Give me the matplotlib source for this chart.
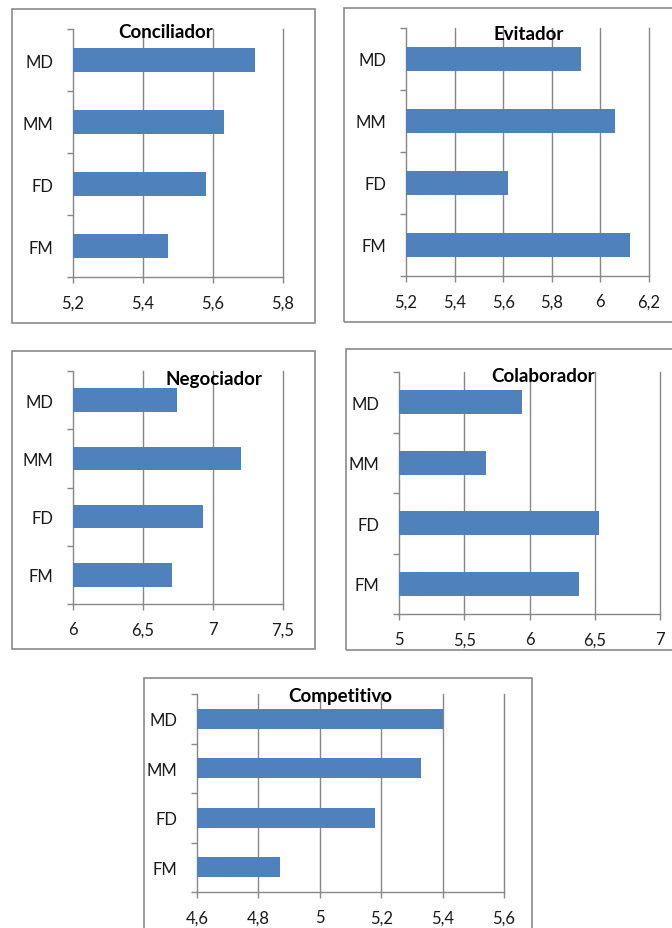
import matplotlib
matplotlib.use("Agg")
import matplotlib.pyplot as plt
from matplotlib.patches import Rectangle
from matplotlib.ticker import FuncFormatter, FixedLocator

plt.rcParams['font.family'] = ['Lato', 'DejaVu Sans']

categories = ["FM", "FD", "MM", "MD"]

conciliador = [5.47, 5.58, 5.63, 5.72]
evitador = [6.12, 5.62, 6.06, 5.92]
negociador = [6.71, 6.93, 7.20, 6.74]
colaborador = [6.38, 6.53, 5.67, 5.94]
competitivo = [4.87, 5.18, 5.33, 5.40]

titles = ["Conciliador", "Evitador", "Negociador", "Colaborador", "Competitivo"]
series = [conciliador, evitador, negociador, colaborador, competitivo]
xticks = [
    [5.2, 5.4, 5.6, 5.8],
    [5.2, 5.4, 5.6, 5.8, 6.0, 6.2],
    [6.0, 6.5, 7.0, 7.5],
    [5.0, 5.5, 6.0, 6.5, 7.0],
    [4.6, 4.8, 5.0, 5.2, 5.4, 5.6],
]

W, H = 672, 929
fig = plt.figure(figsize=(W / 100, H / 100), dpi=100)
fig.patch.set_facecolor("white")

# layout in pixels: box (x0,y0,x1,y1), axes (x0,y0,x1,y1), title center (x,y)
boxes = [(12, 10, 315, 324), (344, 9, 690, 323), (12, 352, 315, 650),
         (346, 350, 690, 651), (144, 679, 532, 950)]
axes_px = [(73, 30, 283, 278), (406, 29, 649, 277), (73, 372, 283, 605),
           (399, 373, 660, 615), (197, 695, 504, 893)]
title_px = [(166, 32), (529, 35), (214, 380), (543, 377), (340, 697)]

grid_col = "#878787"
bar_col = "#4f81bd"


def fmt(v, pos):
    s = ("%.1f" % v)
    if s.endswith(".0"):
        s = s[:-2]
    return s.replace(".", ",")


for i in range(5):
    bx0, by0, bx1, by1 = boxes[i]
    fig.patches.append(Rectangle((bx0 / W, 1 - by1 / H), (bx1 - bx0) / W, (by1 - by0) / H,
                                 transform=fig.transFigure, fill=False,
                                 edgecolor="#8a8a8a", linewidth=1.2, zorder=0))
    ax0, ay0, ax1, ay1 = axes_px[i]
    ax = fig.add_axes([ax0 / W, 1 - ay1 / H, (ax1 - ax0) / W, (ay1 - ay0) / H])
    ax.set_facecolor("none")
    ypos = list(range(len(categories)))
    ax.barh(ypos, series[i], height=0.4, color=bar_col, zorder=3, left=0)
    tk = xticks[i]
    ax.set_xlim(tk[0], tk[-1])
    ax.set_ylim(-0.5, len(categories) - 0.5)
    ax.xaxis.set_major_locator(FixedLocator(tk))
    ax.xaxis.set_major_formatter(FuncFormatter(fmt))
    ax.yaxis.set_major_locator(FixedLocator([-0.5, 0.5, 1.5, 2.5, 3.5]))
    ax.yaxis.set_major_formatter(FuncFormatter(lambda v, p: ""))
    ax.yaxis.set_minor_locator(FixedLocator(ypos))
    ax.set_yticklabels(categories, minor=True)
    ax.tick_params(axis="y", which="minor", length=0, pad=14, labelsize=12, labelcolor="#1a1a1a")
    ax.tick_params(axis="y", which="major", length=4, width=1, color=grid_col, direction="out")
    ax.tick_params(axis="x", length=4, width=1, color=grid_col, direction="out", pad=8.5,
                   labelsize=12, labelcolor="#1a1a1a")
    for t in tk[1:]:
        ax.axvline(t, color=grid_col, linewidth=1, zorder=1, clip_on=False)
    for s in ["top", "right"]:
        ax.spines[s].set_visible(False)
    for s in ["left", "bottom"]:
        ax.spines[s].set_color(grid_col)
        ax.spines[s].set_linewidth(1)
    tx, ty = title_px[i]
    fig.text(tx / W, 1 - ty / H, titles[i], ha="center", va="center",
             fontsize=13.5, fontweight="bold", color="black", zorder=5)

fig.savefig("out.png", dpi=100, facecolor="white")
